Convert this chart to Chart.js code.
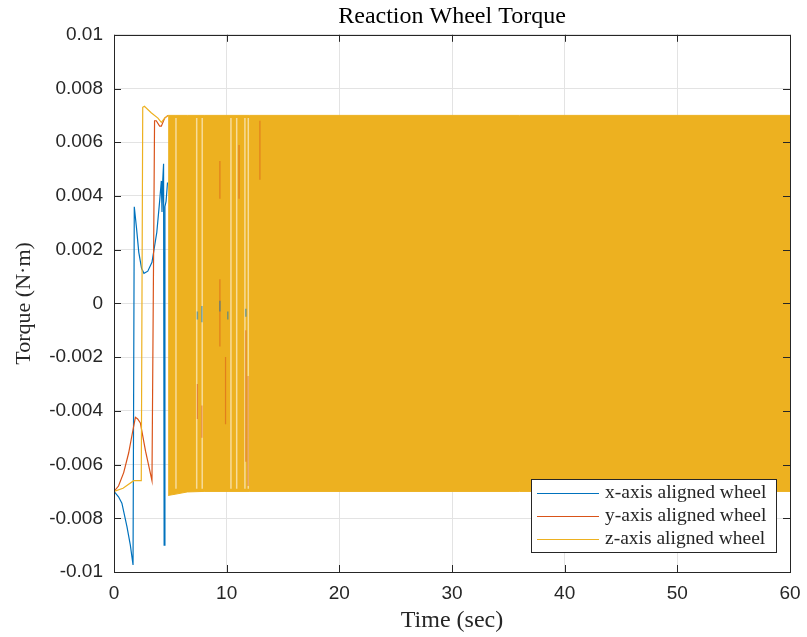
<!DOCTYPE html>
<html>
<head>
<meta charset="utf-8">
<script src="https://cdn.jsdelivr.net/npm/chart.js@4.4.1/dist/chart.umd.min.js"></script>
<style>
  body { margin: 0; background: #ffffff; }
  #wrap { width: 807px; height: 637px; }
</style>
</head>
<body>
<div id="wrap"><canvas id="myChart" width="807" height="637"></canvas></div>
<script>
// axis ticks
const xTicks = [0, 10, 20, 30, 40, 50, 60];
const xTickLabels = ['0', '10', '20', '30', '40', '50', '60'];
const yTicks = [-0.01, -0.008, -0.006, -0.004, -0.002, 0, 0.002, 0.004, 0.006, 0.008, 0.01];
const yTickLabels = ['-0.01', '-0.008', '-0.006', '-0.004', '-0.002', '0', '0.002', '0.004', '0.006', '0.008', '0.01'];

const seriesNames = ['x-axis aligned wheel', 'y-axis aligned wheel', 'z-axis aligned wheel'];

// x-axis wheel, start-up transient
const timeX = [0, 0.4, 0.7, 1.15, 1.45, 1.69, 1.8, 2.0, 2.2, 2.45, 2.66, 3.0, 3.37, 3.8, 4.05, 4.2, 4.26, 4.33, 4.4, 4.45, 4.52, 4.62, 4.75];
const torqueX = [-0.007, -0.0072, -0.00744, -0.00831, -0.0090, -0.00974, 0.0036, 0.0028, 0.0019, 0.0013, 0.00112, 0.0012, 0.00153, 0.00265, 0.0038, 0.00456, 0.0034, 0.0046, 0.0052, -0.0090, 0.0036, 0.0038, 0.0045];

// y-axis wheel, start-up transient
const timeY = [0, 0.4, 0.86, 1.3, 1.6, 1.9, 2.1, 2.34, 2.8, 3.37, 3.6, 3.75, 4.05, 4.2, 4.5, 4.8];
const torqueY = [-0.007, -0.0068, -0.0063, -0.00557, -0.0049, -0.00424, -0.0043, -0.00445, -0.0055, -0.0066, 0.0068, 0.0068, 0.0066, 0.0066, 0.0069, 0.0070];

// z-axis wheel, start-up transient
const timeZ = [0, 0.8, 1.75, 2.42, 2.55, 2.7, 3.3, 3.9, 4.2, 4.5, 4.8];
const torqueZ = [-0.007, -0.00688, -0.0066, -0.0066, 0.0073, 0.00734, 0.0071, 0.0069, 0.00674, 0.0069, 0.0070];

// chattering band after ~4.8 s (envelope of the saturated switching)
const bandTime = [4.8, 5.5, 6.5, 8, 12, 60];
const bandUpper = [0.0070, 0.0070, 0.0070, 0.0070, 0.0070, 0.0070];
const bandLower = [-0.00715, -0.0071, -0.00702, -0.0070, -0.0070, -0.0070];

// light gaps inside the band
const gapTime = [5.5, 7.34, 7.83, 10.38, 10.89, 11.62, 11.92];
const gapTop = [0.0069, 0.0069, 0.0069, 0.0069, 0.0069, 0.0069, 0.0069];
const gapBottom = [-0.0069, -0.0069, -0.0069, -0.0069, -0.0069, -0.0069, -0.0069];

// y-axis wheel streaks showing through
const streakTime = [7.4, 7.8, 9.4, 9.4, 9.9, 11.1, 11.7, 11.9, 12.95];
const streakTop = [-0.0030, -0.0038, 0.0053, 0.0009, -0.0020, 0.0059, -0.0010, -0.0027, 0.0068];
const streakBottom = [-0.0043, -0.0050, 0.0039, -0.0016, -0.0045, 0.0039, -0.0059, -0.0068, 0.0046];

// x-axis wheel bits near zero
const bitTime = [7.4, 7.8, 9.4, 10.1, 11.7];
const bitTop = [-0.0003, -0.0001, 0.0001, -0.0003, -0.0002];
const bitBottom = [-0.0006, -0.0007, -0.0003, -0.0006, -0.0005];

const colors = ['#0072BD', '#D95319', '#EDB120'];

function toPoints(t, v) {
    let pts = [];
    for (let i = 0; i < t.length; i++) {
        pts.push({ x: t[i], y: v[i] });
    }
    return pts;
}
// vertical segments separated by a break
function toSegments(t, top, bottom) {
    let pts = [];
    for (let i = 0; i < t.length; i++) {
        pts.push({ x: t[i], y: top[i] });
        pts.push({ x: t[i], y: bottom[i] });
        pts.push({ x: t[i], y: null });
    }
    return pts;
}

const serifFont = "'Liberation Serif', 'DejaVu Serif', serif";
const sansFont = "'Liberation Sans', Arial, sans-serif";

// box, inward ticks and legend like the original figure
const figurePlugin = {
    id: 'figurePlugin',
    afterDraw(chart) {
        const ctx = chart.ctx;
        const area = chart.chartArea;
        const xs = chart.scales.x;
        const ys = chart.scales.y;
        ctx.save();
        ctx.strokeStyle = '#262626';
        ctx.lineWidth = 1;
        ctx.beginPath();
        for (let v of xTicks) {
            let px = Math.round(xs.getPixelForValue(v)) + 0.5;
            ctx.moveTo(px, area.bottom); ctx.lineTo(px, area.bottom - 7);
            ctx.moveTo(px, area.top); ctx.lineTo(px, area.top + 7);
        }
        for (let v of yTicks) {
            let py = Math.round(ys.getPixelForValue(v)) + 0.5;
            ctx.moveTo(area.left, py); ctx.lineTo(area.left + 7, py);
            ctx.moveTo(area.right, py); ctx.lineTo(area.right - 7, py);
        }
        ctx.stroke();
        ctx.strokeRect(Math.round(area.left) + 0.5, Math.round(area.top) + 0.5,
            Math.round(area.right - area.left), Math.round(area.bottom - area.top));

        // legend
        const lx = 531, ly = 479, lw = 245, lh = 73;
        ctx.fillStyle = '#ffffff';
        ctx.fillRect(lx, ly, lw, lh);
        ctx.strokeStyle = '#262626';
        ctx.strokeRect(lx + 0.5, ly + 0.5, lw, lh);
        ctx.font = '19.5px ' + serifFont;
        ctx.textBaseline = 'middle';
        ctx.fillStyle = '#262626';
        for (let i = 0; i < seriesNames.length; i++) {
            let yy = ly + 14 + i * 23;
            ctx.strokeStyle = colors[i];
            ctx.lineWidth = 1;
            ctx.beginPath();
            ctx.moveTo(lx + 6, yy + 0.5);
            ctx.lineTo(lx + 68, yy + 0.5);
            ctx.stroke();
            ctx.fillText(seriesNames[i], lx + 74, yy);
        }
        ctx.restore();
    }
};

const ctx = document.getElementById('myChart').getContext('2d');
const myChart = new Chart(ctx, {
    type: 'line',
    data: {
        datasets: [
            { label: seriesNames[0], data: toPoints(timeX, torqueX), borderColor: colors[0], borderWidth: 1.2, pointRadius: 0, order: 9 },
            { label: seriesNames[1], data: toPoints(timeY, torqueY), borderColor: colors[1], borderWidth: 1.2, pointRadius: 0, order: 8 },
            { label: seriesNames[2], data: toPoints(timeZ, torqueZ), borderColor: colors[2], borderWidth: 1.2, pointRadius: 0, order: 7 },
            { label: 'band upper', data: toPoints(bandTime, bandUpper), borderColor: colors[2], borderWidth: 1, pointRadius: 0, order: 6 },
            { label: 'band lower', data: toPoints(bandTime, bandLower), borderColor: colors[2], borderWidth: 1, pointRadius: 0, order: 6,
              fill: '-1', backgroundColor: colors[2] },
            { label: 'gaps', data: toSegments(gapTime, gapTop, gapBottom), borderColor: 'rgba(255,255,255,0.55)', borderWidth: 1.5, pointRadius: 0, spanGaps: false, order: 3 },
            { label: 'streaks', data: toSegments(streakTime, streakTop, streakBottom), borderColor: 'rgba(217,83,25,0.55)', borderWidth: 1.2, pointRadius: 0, spanGaps: false, order: 2 },
            { label: 'bits', data: toSegments(bitTime, bitTop, bitBottom), borderColor: 'rgba(0,114,189,0.5)', borderWidth: 1.5, pointRadius: 0, spanGaps: false, order: 1 }
        ]
    },
    options: {
        responsive: false,
        animation: false,
        layout: { padding: { left: 0, right: 17, top: 0, bottom: 0 } },
        plugins: {
            legend: { display: false },
            tooltip: { enabled: false },
            title: {
                display: true,
                fullSize: false,
                text: 'Reaction Wheel Torque',
                color: '#000000',
                font: { family: serifFont, size: 24, weight: 'normal' },
                padding: { top: 2, bottom: 4 }
            }
        },
        scales: {
            x: {
                type: 'linear',
                min: 0,
                max: 60,
                afterFit: (scale) => { scale.height = 65; scale.paddingRight = 0; scale.paddingLeft = 0; },
                afterBuildTicks: (axis) => { axis.ticks = xTicks.map(v => ({ value: v })); },
                grid: { color: '#e3e3e3', drawTicks: false },
                border: { display: false },
                ticks: {
                    autoSkip: false, maxRotation: 0, padding: 10, color: '#262626',
                    font: { family: sansFont, size: 19 },
                    callback: (v, i) => xTickLabels[i]
                },
                title: {
                    display: true, text: 'Time (sec)', color: '#262626',
                    font: { family: serifFont, size: 24 },
                    padding: { top: 0, bottom: 2 }
                }
            },
            y: {
                type: 'linear',
                min: -0.01,
                max: 0.01,
                afterFit: (scale) => { scale.width = 114; },
                afterBuildTicks: (axis) => { axis.ticks = yTicks.map(v => ({ value: v })); },
                grid: { color: '#e3e3e3', drawTicks: false },
                border: { display: false },
                ticks: {
                    autoSkip: false, padding: 11, color: '#262626',
                    font: { family: sansFont, size: 19 },
                    callback: (v, i) => yTickLabels[i]
                },
                title: {
                    display: true, text: 'Torque (N·m)', color: '#262626',
                    font: { family: serifFont, size: 22 },
                    padding: { top: 11, bottom: 0 }
                }
            }
        }
    },
    plugins: [figurePlugin]
});
</script>
</body>
</html>
